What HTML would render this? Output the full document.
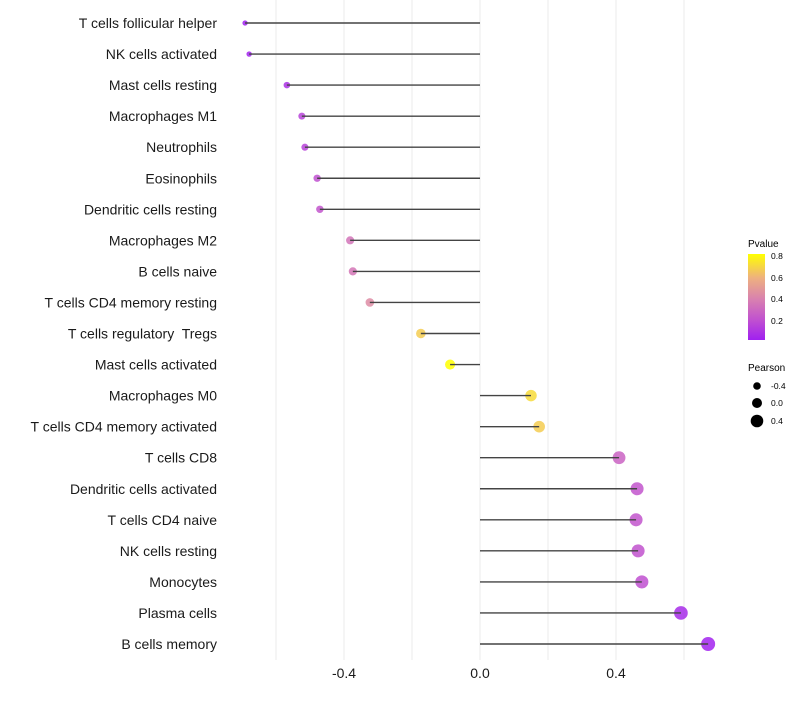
<!DOCTYPE html>
<html><head><meta charset="utf-8"><style>
body{margin:0;background:#fff;font-family:"Liberation Sans",sans-serif}
svg text{font-family:"Liberation Sans",sans-serif;white-space:pre}
</style></head><body>
<svg id="chart" width="800" height="700" xmlns="http://www.w3.org/2000/svg">
<g id="grid"></g>
<g id="pts"></g>
<g id="segs"></g>
<g id="ylab"></g>
<g id="xlab"></g>
<g>
<text x="748" y="247" font-size="10">Pvalue</text>
<defs><linearGradient id="cg" x1="0" y1="1" x2="0" y2="0">
<stop offset="0" stop-color="#A020F0"/><stop offset="0.23" stop-color="#C050D0"/><stop offset="0.47" stop-color="#D880B0"/><stop offset="0.72" stop-color="#EEB080"/><stop offset="1" stop-color="#FFFF00"/></linearGradient></defs>
<rect x="748" y="254" width="17" height="86" fill="url(#cg)"/>
<text x="771" y="259" font-size="8.5">0.8</text><text x="771" y="281" font-size="8.5">0.6</text>
<text x="771" y="302" font-size="8.5">0.4</text><text x="771" y="324" font-size="8.5">0.2</text>
</g>
<g>
<text x="748" y="371" font-size="10">Pearson</text>
<circle cx="757" cy="386" r="3.8" fill="#000"/><text x="771" y="389" font-size="8.5">-0.4</text>
<circle cx="757" cy="403" r="5" fill="#000"/><text x="771" y="406" font-size="8.5">0.0</text>
<circle cx="757" cy="421" r="6.3" fill="#000"/><text x="771" y="424" font-size="8.5">0.4</text>
</g>
</svg>
<script>
const categories=["T cells follicular helper","NK cells activated","Mast cells resting","Macrophages M1","Neutrophils","Eosinophils","Dendritic cells resting","Macrophages M2","B cells naive","T cells CD4 memory resting","T cells regulatory  Tregs","Mast cells activated","Macrophages M0","T cells CD4 memory activated","T cells CD8","Dendritic cells activated","T cells CD4 naive","NK cells resting","Monocytes","Plasma cells","B cells memory"];
const pearson=[-0.691,-0.679,-0.568,-0.524,-0.515,-0.479,-0.471,-0.382,-0.374,-0.324,-0.174,-0.088,0.15,0.174,0.409,0.462,0.459,0.465,0.476,0.591,0.671];
const pvalue=[0.02,0.03,0.08,0.15,0.15,0.2,0.22,0.35,0.36,0.45,0.68,0.82,0.72,0.68,0.28,0.22,0.22,0.21,0.2,0.06,0.03];
const xticks=[-0.4,0.0,0.4];
const xgrid=[-0.6,-0.4,-0.2,0,0.2,0.4,0.6];
const NS="http://www.w3.org/2000/svg";
const X=v=>480+v*340;
const Y=i=>23+i*31.05;
const R=v=>Math.max(1.6,Math.sqrt(Math.max(0,28.3+30.8*v)));
const stops=[[0.02,[160,32,240]],[0.2,[192,80,208]],[0.4,[216,128,176]],[0.6,[238,176,128]],[0.82,[255,255,0]]];
function col(p){p=Math.max(0.02,Math.min(0.82,p));for(let k=0;k<stops.length-1;k++){const[a,ca]=stops[k],[b,cb]=stops[k+1];if(p<=b){const t=(p-a)/(b-a);return"rgb("+ca.map((c,j)=>Math.round(c+(cb[j]-c)*t)).join(",")+")";}}return"rgb(255,255,0)";}
function mk(t,a,p){const e=document.createElementNS(NS,t);for(const k in a)e.setAttribute(k,a[k]);p.appendChild(e);return e;}
const grid=document.getElementById('grid'),pts=document.getElementById('pts'),segs=document.getElementById('segs'),yl=document.getElementById('ylab'),xl=document.getElementById('xlab');
xgrid.forEach(v=>{const l=mk('line',{x1:X(v),x2:X(v),y1:0,y2:660,stroke:'#ebebeb','stroke-width':1},grid);

});
categories.forEach((c,i)=>{
const ci=mk('circle',{cx:X(pearson[i]),cy:Y(i),r:R(pearson[i]),fill:col(pvalue[i]),'fill-opacity':0.85},pts);


const s=mk('line',{x1:X(0),x2:X(pearson[i]),y1:Y(i),y2:Y(i),stroke:'#444','stroke-width':1.4},segs);


const t=mk('text',{x:217,y:Y(i)+5,'text-anchor':'end','font-size':14,fill:'#1a1a1a'},yl);
t.textContent=c;

});
xticks.forEach(v=>{const t=mk('text',{x:X(v),y:678,'text-anchor':'middle','font-size':14,fill:'#1a1a1a'},xl);
t.textContent=v.toFixed(1);

});
</script>
</body></html>
